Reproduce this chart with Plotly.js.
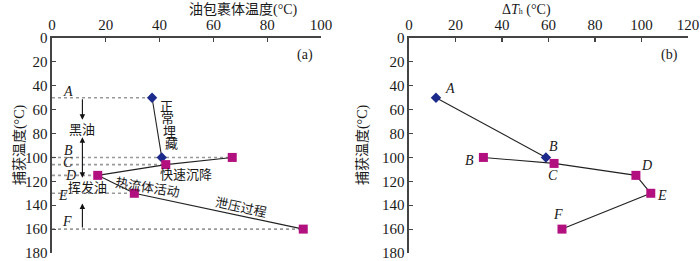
<!DOCTYPE html>
<html>
<head>
<meta charset="utf-8">
<script src="https://cdn.plot.ly/plotly-3.0.1.min.js"></script>
<style>html,body{margin:0;padding:0;background:#fff;}#chart{width:700px;height:261px;}</style>
</head>
<body>
<div id="chart"></div>
<script>
// ---- data (a) ----
var aLabels = ["A","B","C","D","E","F"];
var aNormalX = [37.2, 40.8];          // blue diamonds A, B
var aNormalY = [50, 100];
var aSqX = [67, 42.3, 17, 30.6, 93.4]; // magenta squares
var aSqY = [100, 106, 115, 130, 160];
var aRefLineX = [37.2, 67, 42.3, 17, 30.6, 93.4]; // dotted guide end x for A..F
var aRefLineY = [50, 100, 106, 115, 130, 160];

// ---- data (b) ----
var bNormalX = [11.6, 58.9];
var bNormalY = [50, 100];
var bSqX = [32, 62.4, 97.6, 104, 65.8];
var bSqY = [100, 105, 115, 130, 160];
var bLabels = ["A","B","B","C","D","E","F"];

var xTicks = [0,20,40,60,80,100];
var xTicksB = [0,20,40,60,80,100,120];
var yTicks = [0,20,40,60,80,100,120,140,160,180];

var serif = "Liberation Serif, Times New Roman, serif";
var cjk = "Liberation Serif, Noto Sans CJK SC, serif";
var navy = "#1c2a8c", mag = "#b3107f", axc = "#444";

function F(fam, size){ return {family:fam, size:size, color:'#1a1a1a'}; }

var traces = [];
// dotted guide lines
aRefLineX.forEach(function(x, i){
  traces.push({x:[0, x], y:[aRefLineY[i], aRefLineY[i]], xaxis:'x', yaxis:'y', mode:'lines',
    line:{color:'#999', width:1.6, dash:'dot'}, hoverinfo:'skip', showlegend:false});
});
traces.push({x:aNormalX, y:aNormalY, xaxis:'x', yaxis:'y', mode:'lines+markers',
  line:{color:'#222', width:1.1}, marker:{symbol:'diamond', size:8, color:navy}, showlegend:false});
traces.push({x:aSqX, y:aSqY, xaxis:'x', yaxis:'y', mode:'lines+markers',
  line:{color:'#222', width:1.1}, marker:{symbol:'square', size:9, color:mag}, showlegend:false});
traces.push({x:bNormalX, y:bNormalY, xaxis:'x2', yaxis:'y2', mode:'lines+markers',
  line:{color:'#222', width:1.1}, marker:{symbol:'diamond', size:8, color:navy}, showlegend:false});
traces.push({x:bSqX, y:bSqY, xaxis:'x2', yaxis:'y2', mode:'lines+markers',
  line:{color:'#222', width:1.1}, marker:{symbol:'square', size:9, color:mag}, showlegend:false});

function ann(text, x, y, ref, font, angle){
  var o = {text:text, x:x, y:y, xref:'x'+ref, yref:'y'+ref, showarrow:false, font:font};
  if (angle) o.textangle = angle;
  return o;
}
var annotations = [];
// letters (a)
var aLetterPos = [[6,44.8],[6,94.3],[6,104.5],[6.7,115.3],[4,131.6],[5.6,153.6]];
aLabels.forEach(function(l,i){
  annotations.push(ann('<i>'+l+'</i>', aLetterPos[i][0], aLetterPos[i][1], '', F(serif,14)));
});
// letters (b)
var bLetterPos = [[17.6,42.5],[62,91],[26,102.5],[61.8,115],[102,107],[108.7,131.6],[64,147.6]];
bLabels.forEach(function(l,i){
  annotations.push(ann('<i>'+l+'</i>', bLetterPos[i][0], bLetterPos[i][1], '2', F(serif,14)));
});
annotations.push(ann('(a)', 94, 14, '', F(serif,14)));
annotations.push(ann('(b)', 112, 14, '2', F(serif,14)));
annotations.push(ann('黑油', 11.3, 76.9, '', F(cjk,13)));
annotations.push(ann('挥发油', 13.2, 125, '', F(cjk,13)));
annotations.push(ann('快速沉降', 49.8, 113.9, '', F(cjk,13)));
annotations.push(ann('热流体活动', 35.5, 124.8, '', F(cjk,13), 9));
annotations.push(ann('泄压过程', 70.3, 141.8, '', F(cjk,13), 12));
var vert = ['正','常','埋','藏'], vertY = [57, 67.6, 78.2, 88.7], vertX = [42.6, 43.0, 43.5, 44.3];
vert.forEach(function(c,i){ annotations.push(ann(c, vertX[i], vertY[i], '', F(cjk,13))); });
// arrows
function arrow(x, y0, y1, side){
  return {x:x, y:y1, ax:x, ay:y0, xref:'x', yref:'y', axref:'x', ayref:'y', text:'',
    showarrow:true, arrowhead:2, arrowsize:1, arrowwidth:1.1, arrowcolor:'#111', arrowside:side||'end', standoff:0, startstandoff:0};
}
annotations.push(arrow(11.3, 50, 68.5));
annotations.push(arrow(11.3, 81.8, 117, 'end+start'));
annotations.push(arrow(11.3, 160, 138.5));
// titles
annotations.push({text:'油包裹体温度(°C)', x:0.267, y:1, xref:'paper', yref:'paper', yanchor:'top', showarrow:false,
  font:F(cjk,14)});
annotations.push({text:'Δ<i>T</i><span style="font-size:8px">h</span> (°C)', x:0.79, y:1, xref:'paper', yref:'paper', yanchor:'top', showarrow:false,
  font:F(serif,14)});
annotations.push({text:'捕获温度(°C)', x:10/700, y:0.444, xref:'paper', yref:'paper', textangle:-90, showarrow:false,
  font:F(cjk,14)});
annotations.push({text:'捕获温度(°C)', x:363/700, y:0.444, xref:'paper', yref:'paper', textangle:-90, showarrow:false,
  font:F(cjk,14)});

function xax(dom, ticks, rng, anchor){
  return {domain:dom, range:rng, side:'top', anchor:anchor, tickvals:ticks, ticks:'inside', ticklen:4, tickwidth:1.2,
    tickcolor:axc, showline:true, linecolor:axc, linewidth:1.6, showgrid:false, zeroline:false,
    ticklabeloverflow:'allow', tickfont:F(serif,15), fixedrange:true};
}
function yax(dom, anchor){
  return {domain:dom, range:[180,0], anchor:anchor, tickvals:yTicks, ticks:'inside', ticklen:4, tickwidth:1.2,
    tickcolor:axc, showline:true, linecolor:axc, linewidth:1.6, showgrid:false, zeroline:false,
    ticklabeloverflow:'allow', tickfont:F(serif,15), fixedrange:true};
}
var yd = [8/261, 223/261];
var layout = {
  width:700, height:261, margin:{l:0, r:0, t:0, b:0}, paper_bgcolor:'#fff', plot_bgcolor:'#fff',
  xaxis: xax([52/700, 321/700], xTicks, [0,100], 'y'),
  yaxis: yax(yd, 'x'),
  xaxis2: xax([409/700, 688/700], xTicksB, [0,120], 'y2'),
  yaxis2: yax(yd, 'x2'),
  annotations: annotations, showlegend:false
};
Plotly.newPlot('chart', traces, layout, {staticPlot:true});
</script>
</body>
</html>
